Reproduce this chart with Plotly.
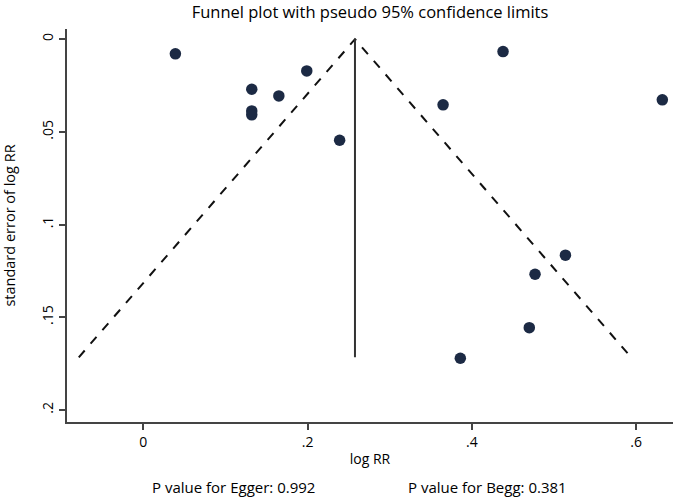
import plotly.graph_objects as go

# Study estimates (log RR) and their standard errors
log_rr = [0.039, 0.132, 0.132, 0.132, 0.165, 0.199, 0.239, 0.365, 0.438,
          0.632, 0.514, 0.477, 0.470, 0.386]
se_log_rr = [0.0079, 0.0270, 0.0387, 0.0408, 0.0306, 0.0171, 0.0545, 0.0354,
             0.0067, 0.0327, 0.1165, 0.1268, 0.1556, 0.1721]

pooled = 0.2577
se_max = 0.1716
z = 1.96

x_ticks = [0, 0.2, 0.4, 0.6]
x_tick_labels = ["0", ".2", ".4", ".6"]
y_ticks = [0, 0.05, 0.1, 0.15, 0.2]
y_tick_labels = ["0", ".05", ".1", ".15", ".2"]

title_text = "Funnel plot with pseudo 95% confidence limits"
egger_text = "P value for Egger: 0.992"
begg_text = "P value for Begg: 0.381"

FONT = "Open Sans"

fig = go.Figure()

# pseudo 95% confidence limits
fig.add_trace(go.Scatter(
    x=[pooled - z * se_max, pooled, pooled + z * se_max],
    y=[se_max, 0, se_max],
    mode="lines",
    line=dict(color="#111111", width=2, dash="dash"),
    hoverinfo="skip", showlegend=False,
))
# pooled estimate line
fig.add_trace(go.Scatter(
    x=[pooled, pooled], y=[0, se_max],
    mode="lines",
    line=dict(color="#333333", width=2),
    hoverinfo="skip", showlegend=False,
))
# studies
fig.add_trace(go.Scatter(
    x=log_rr, y=se_log_rr, mode="markers",
    marker=dict(color="#1c2a44", size=11.5),
    showlegend=False,
))

fig.update_layout(
    width=675, height=498,
    margin=dict(l=67, r=2, t=29, b=76),
    paper_bgcolor="white", plot_bgcolor="white",
    font=dict(family=FONT, color="#000000", size=13),
    title=dict(text=title_text, x=0.5, xref="paper", xanchor="center",
               y=0.975, yanchor="middle",
               font=dict(family=FONT, size=16.5, color="#000000")),
    xaxis=dict(
        range=[-0.093, 0.645], tickvals=x_ticks, ticktext=x_tick_labels,
        showgrid=False, zeroline=False, showline=True, linecolor="#444444",
        linewidth=2, ticks="outside", ticklen=6, tickwidth=1.5, tickcolor="#444444",
        tickfont=dict(size=14),
        title=dict(text="log RR", standoff=4, font=dict(size=14)),
    ),
    yaxis=dict(
        range=[0.2065, -0.0055], tickvals=y_ticks, ticktext=y_tick_labels,
        showgrid=False, zeroline=False, showline=True, linecolor="#444444",
        linewidth=2, ticks="outside", ticklen=6, tickwidth=1.5, tickcolor="#444444",
        tickangle=-90, tickfont=dict(size=14),
        title=dict(text="standard error of log RR", standoff=20, font=dict(size=14.5)),
    ),
    annotations=[
        dict(text=egger_text, xref="paper", yref="paper", x=0.275, y=-0.165,
             xanchor="center", yanchor="middle", showarrow=False,
             font=dict(size=15)),
        dict(text=begg_text, xref="paper", yref="paper", x=0.694, y=-0.165,
             xanchor="center", yanchor="middle", showarrow=False,
             font=dict(size=15)),
    ],
)

fig.write_html(
    "out.html",
    config={"displayModeBar": False},
    post_script="document.body.style.margin='0';document.body.style.padding='0';"
                "document.body.style.overflow='hidden';",
)
